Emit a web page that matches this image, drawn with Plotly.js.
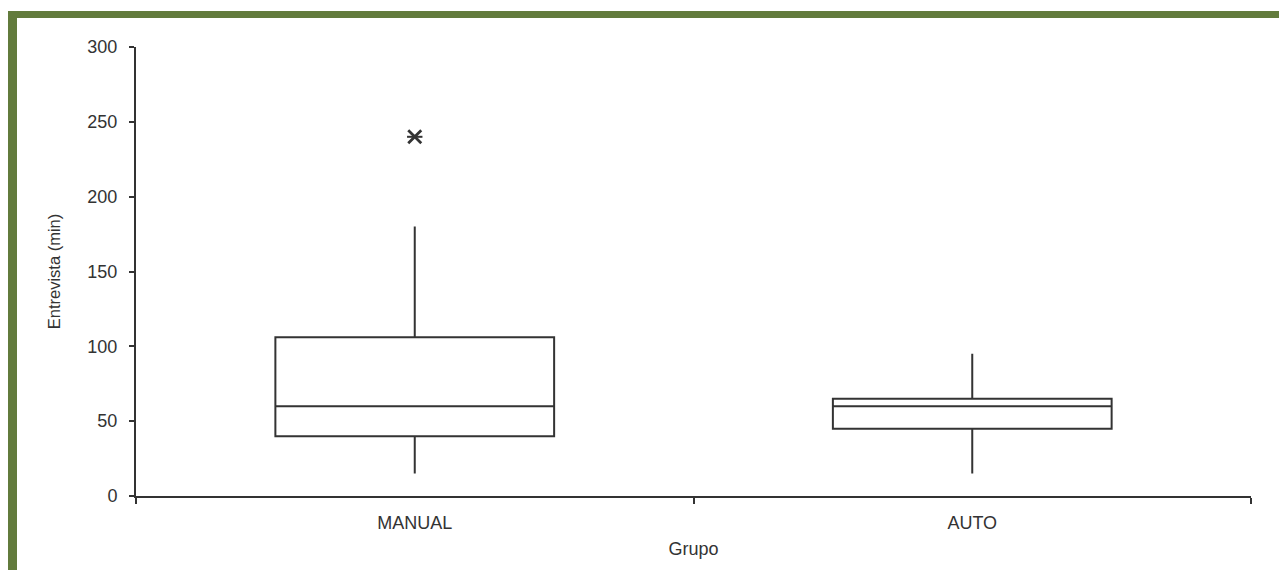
<!DOCTYPE html>
<html>
<head>
<meta charset="utf-8">
<script src="https://cdn.plot.ly/plotly-3.0.1.min.js"></script>
<style>
  html, body { margin: 0; padding: 0; background: #ffffff; }
  #wrap { position: relative; width: 1279px; height: 570px; overflow: hidden; }
  #chart { position: absolute; left: 0; top: 0; width: 1279px; height: 570px; }
  .band { position: absolute; background: #627b3c; }
</style>
</head>
<body>
<div id="wrap">
  <div id="chart"></div>
  <div class="band" style="left:8px; top:11px; width:1271px; height:7px;"></div>
  <div class="band" style="left:8px; top:11px; width:9px; height:559px;"></div>
</div>
<script>
const groups = ["MANUAL", "AUTO"];
const lowerWhisker = [15, 15];
const q1 = [40, 45];
const medians = [60, 60];
const q3 = [106, 65];
const upperWhisker = [180, 95];
const outlierGroups = ["MANUAL"];
const outlierValues = [240];
const yTicks = [0, 50, 100, 150, 200, 250, 300];

const lineCol = "#333333";

const traces = [
  {
    type: "box",
    x: groups,
    q1: q1,
    median: medians,
    q3: q3,
    lowerfence: lowerWhisker,
    upperfence: upperWhisker,
    boxpoints: false,
    width: 0.5,
    whiskerwidth: 0,
    fillcolor: "rgba(255,255,255,0)",
    line: { color: lineCol, width: 2 },
    hoverinfo: "skip",
    showlegend: false
  },
  {
    type: "scatter",
    mode: "markers",
    x: outlierGroups,
    y: outlierValues,
    marker: { symbol: "x-thin-open", size: 13, line: { color: lineCol, width: 2.8 }, color: lineCol },
    hoverinfo: "skip",
    showlegend: false
  },
  {
    type: "scatter",
    mode: "markers",
    x: outlierGroups,
    y: outlierValues,
    marker: { symbol: "line-ew-open", size: 11, line: { color: lineCol, width: 2 }, color: lineCol },
    hoverinfo: "skip",
    showlegend: false
  }
];

const layout = {
  width: 1279,
  height: 570,
  margin: { l: 136, r: 28, t: 47, b: 74 },
  paper_bgcolor: "rgba(0,0,0,0)",
  plot_bgcolor: "rgba(0,0,0,0)",
  showlegend: false,
  font: { family: "Arial, 'Liberation Sans', sans-serif", color: "#333333" },
  xaxis: {
    type: "category",
    categoryorder: "array",
    categoryarray: groups,
    range: [-0.5, 1.5],
    showline: true,
    linecolor: lineCol,
    linewidth: 2,
    showgrid: false,
    zeroline: false,
    ticks: "outside",
    tickson: "boundaries",
    ticklen: 6,
    tickwidth: 2,
    tickcolor: lineCol,
    ticklabelstandoff: 9,
    tickfont: { size: 18, color: "#333333" },
    title: { text: "Grupo", font: { size: 18, color: "#333333" }, standoff: 11 }
  },
  yaxis: {
    range: [0, 300],
    tickvals: yTicks,
    ticktext: yTicks.map(String),
    showline: true,
    linecolor: lineCol,
    linewidth: 2,
    showgrid: false,
    zeroline: false,
    ticks: "outside",
    ticklen: 5,
    tickwidth: 2,
    tickcolor: lineCol,
    ticklabelstandoff: 8,
    tickfont: { size: 18, color: "#333333" },
    title: { text: "Entrevista (min)", font: { size: 16.5, color: "#333333" }, standoff: 23 }
  }
};

Plotly.newPlot("chart", traces, layout, { displayModeBar: false, staticPlot: true });
</script>
</body>
</html>
